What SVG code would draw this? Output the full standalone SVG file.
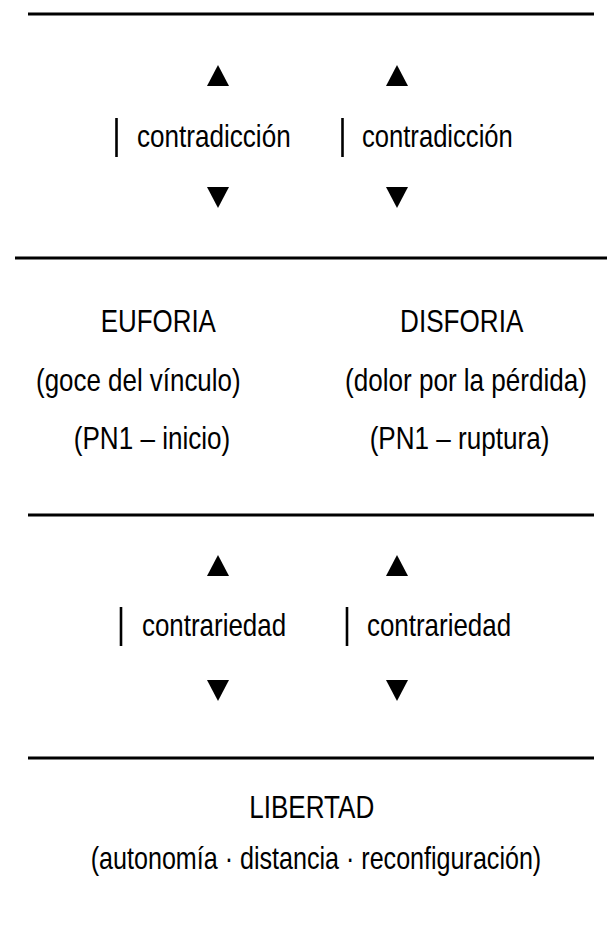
<svg xmlns="http://www.w3.org/2000/svg" width="611" height="926" viewBox="0 0 611 926">
<style>
.t{font-family:"Liberation Sans",Arial,sans-serif;font-size:32px;fill:#000;}
.s{font-size:31px;}
.m{text-anchor:middle;}
.rule{stroke:#000;stroke-width:3;fill:none;}
.bar{stroke:#000;stroke-width:2.6;fill:none;}
.tri{fill:#000;}
</style>
<defs>
<polygon id="up" class="tri" points="-11,10.5 11,10.5 0,-10.5"/>
<polygon id="down" class="tri" points="-11,-10.5 11,-10.5 0,10.5"/>
</defs>
<rect width="611" height="926" fill="#fff"/>
<g id="dividers">
<line class="rule" x1="28" y1="14" x2="594" y2="14"/>
<line class="rule" x1="15" y1="258" x2="607" y2="258"/>
<line class="rule" x1="28" y1="515" x2="594" y2="515"/>
<line class="rule" x1="28" y1="758" x2="594" y2="758"/>
</g>
<g id="connectors">
<use href="#up" x="218" y="75.5"/>
<use href="#up" x="397" y="75.5"/>
<line class="bar" x1="116.5" y1="118" x2="116.5" y2="157"/>
<line class="bar" x1="342.5" y1="118" x2="342.5" y2="157"/>
<use href="#down" x="218" y="197.5"/>
<use href="#down" x="397" y="197.5"/>
<use href="#up" x="218" y="565.5"/>
<use href="#up" x="397" y="565.5"/>
<line class="bar" x1="121" y1="607" x2="121" y2="646"/>
<line class="bar" x1="347" y1="607" x2="347" y2="646"/>
<use href="#down" x="218" y="690.5"/>
<use href="#down" x="397" y="690.5"/>
</g>
<g id="contradiccion-left"><text class="t" transform="translate(137,147) scale(0.815,1)">contradicción</text></g>
<g id="contradiccion-right"><text class="t" transform="translate(362,147) scale(0.80,1)">contradicción</text></g>
<g id="euforia">
<text class="t m" transform="translate(158.3,332) scale(0.81,1)">EUFORIA</text>
<text class="t m" transform="translate(138.3,391) scale(0.81,1)">(goce del vínculo)</text>
<text class="t m" transform="translate(152,449) scale(0.815,1)">(PN1 – inicio)</text>
</g>
<g id="disforia">
<text class="t m" transform="translate(461.7,332) scale(0.815,1)">DISFORIA</text>
<text class="t m" transform="translate(466,391) scale(0.815,1)">(dolor por la pérdida)</text>
<text class="t m" transform="translate(459.5,449) scale(0.815,1)">(PN1 – ruptura)</text>
</g>
<g id="contrariedad-left"><text class="t" transform="translate(142,636) scale(0.81,1)">contrariedad</text></g>
<g id="contrariedad-right"><text class="t" transform="translate(367,636) scale(0.81,1)">contrariedad</text></g>
<g id="libertad">
<text class="t m" transform="translate(311.7,818) scale(0.815,1)">LIBERTAD</text>
<text class="t s m" transform="translate(316,869) scale(0.81,1)">(autonomía · distancia · reconfiguración)</text>
</g>
</svg>
